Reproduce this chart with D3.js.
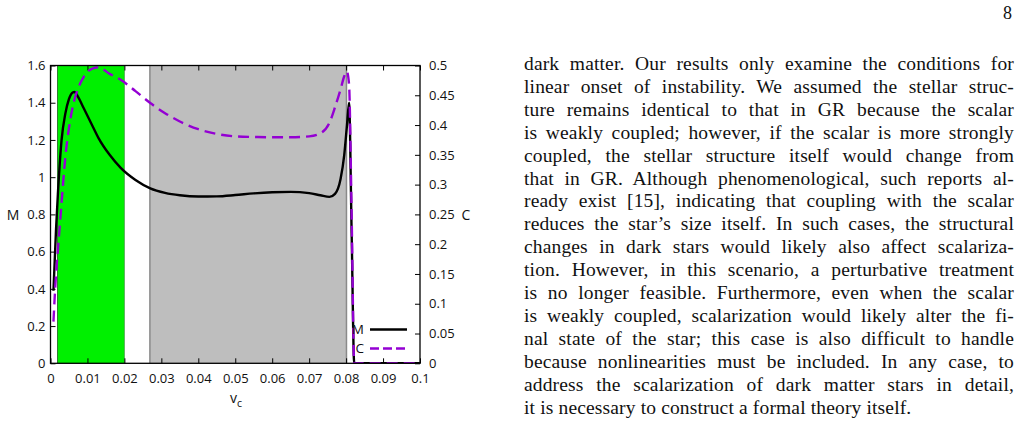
<!DOCTYPE html>
<html><head><meta charset="utf-8">
<script src="https://cdn.jsdelivr.net/npm/d3@7"></script>
<style>
html,body{margin:0;padding:0;background:#fff;width:1022px;height:426px;overflow:hidden;}
svg{position:absolute;left:0;top:0;}
</style></head><body>
<svg id="chart" width="1022" height="426"></svg>
<script>
// ---- data ----
const vc = [0.0008,0.0015,0.002,0.003,0.004,0.005,0.006,0.0065,0.0075,0.009,0.011,0.013,0.016,0.019,0.023,0.027,0.031,0.035,0.04,0.045,0.05,0.055,0.06,0.065,0.07,0.073,0.0755,0.077,0.0785,0.0795,0.0802,0.0808,0.0815,0.0822,0.09,0.1];
const Mvals = [0.39,0.72,0.91,1.20,1.34,1.42,1.455,1.458,1.43,1.37,1.29,1.21,1.12,1.05,0.985,0.94,0.916,0.903,0.896,0.897,0.904,0.913,0.919,0.921,0.914,0.903,0.894,0.91,0.99,1.12,1.27,1.40,0.70,0,0,0];
const Cvals = [0.07,0.15,0.19,0.27,0.345,0.395,0.43,0.443,0.462,0.481,0.494,0.497,0.486,0.476,0.457,0.437,0.42,0.406,0.393,0.385,0.381,0.38,0.3795,0.3795,0.381,0.386,0.404,0.43,0.46,0.482,0.49,0.468,0.25,0,0,0];
const bandStart = [0.0019, 0.0269];
const bandEnd = [0.0200, 0.0801];
const bandName = ["green", "gray"];
const xTicks = [0,0.01,0.02,0.03,0.04,0.05,0.06,0.07,0.08,0.09,0.1];
const xTickLabels = ["0","0.01","0.02","0.03","0.04","0.05","0.06","0.07","0.08","0.09","0.1"];
const yTicks = [0,0.2,0.4,0.6,0.8,1,1.2,1.4,1.6];
const yTickLabels = ["0","0.2","0.4","0.6","0.8","1","1.2","1.4","1.6"];
const y2Ticks = [0,0.05,0.1,0.15,0.2,0.25,0.3,0.35,0.4,0.45,0.5];
const y2TickLabels = ["0","0.05","0.1","0.15","0.2","0.25","0.3","0.35","0.4","0.45","0.5"];
const seriesNames = ["M","C"];
const textLines = [
"dark matter. Our results only examine the conditions for",
"linear onset of instability. We assumed the stellar struc-",
"ture remains identical to that in GR because the scalar",
"is weakly coupled; however, if the scalar is more strongly",
"coupled, the stellar structure itself would change from",
"that in GR. Although phenomenological, such reports al-",
"ready exist [15], indicating that coupling with the scalar",
"reduces the star\u2019s size itself. In such cases, the structural",
"changes in dark stars would likely also affect scalariza-",
"tion. However, in this scenario, a perturbative treatment",
"is no longer feasible. Furthermore, even when the scalar",
"is weakly coupled, scalarization would likely alter the fi-",
"nal state of the star; this case is also difficult to handle",
"because nonlinearities must be included. In any case, to",
"address the scalarization of dark matter stars in detail,",
"it is necessary to construct a formal theory itself."
];
const pageNumber = "8";

// ---- chart ----
const svg = d3.select("#chart");
const L = 50.5, R = 420, T = 65.5, B = 363.3;
const x = d3.scaleLinear().domain([0,0.1]).range([L,R]);
const y = d3.scaleLinear().domain([0,1.6]).range([B,T]);
const y2 = d3.scaleLinear().domain([0,0.5]).range([B,T]);
const tickFont = '"Open Sans", sans-serif';
const fill = {green:"#00f000", gray:"#bebebe"};
const edge = {green:"#2f7d2f", gray:"#8a8a8a"};

const g = svg.append("g");
bandStart.forEach((s,i)=>{
  g.append("rect").attr("x",x(s)).attr("y",T).attr("width",x(bandEnd[i])-x(s)).attr("height",B-T)
   .attr("fill",fill[bandName[i]]);
  g.append("line").attr("x1",x(s)).attr("x2",x(s)).attr("y1",T).attr("y2",B)
   .attr("stroke",edge[bandName[i]]).attr("stroke-width",bandName[i]=="gray"?1.5:1);
  g.append("line").attr("x1",x(bandEnd[i])).attr("x2",x(bandEnd[i])).attr("y1",T).attr("y2",B)
   .attr("stroke",edge[bandName[i]]).attr("stroke-width",bandName[i]=="gray"?1.5:0.6);
});

const axB = d3.axisBottom(x).tickValues(xTicks).tickFormat((d,i)=>xTickLabels[i]).tickSizeInner(-5).tickSizeOuter(0).tickPadding(10);
const axT = d3.axisTop(x).tickValues(xTicks).tickFormat("").tickSizeInner(-5).tickSizeOuter(0);
const axL = d3.axisLeft(y).tickValues(yTicks).tickFormat((d,i)=>yTickLabels[i]).tickSizeInner(-5).tickSizeOuter(0).tickPadding(5);
const axR = d3.axisRight(y2).tickValues(y2Ticks).tickFormat((d,i)=>y2TickLabels[i]).tickSizeInner(-5).tickSizeOuter(0).tickPadding(9);
function styleAx(sel){
  sel.select(".domain").remove();
  sel.selectAll(".tick line").attr("stroke","#000").attr("stroke-width",1);
  sel.selectAll("text").attr("font-family",tickFont).attr("font-size","13px").attr("fill","#111");
}
svg.append("g").attr("transform",`translate(0,${B})`).call(axB).call(styleAx);
svg.append("g").attr("transform",`translate(0,${T})`).call(axT).call(styleAx);
svg.append("g").attr("transform",`translate(${L},0)`).call(axL).call(styleAx);
svg.append("g").attr("transform",`translate(${R},0)`).call(axR).call(styleAx).selectAll("text").attr("text-anchor","start");

const lineM = d3.line().x((d,i)=>x(vc[i])).y(d=>y(d)).curve(d3.curveMonotoneX);
const lineC = d3.line().x((d,i)=>x(vc[i])).y(d=>y2(d)).curve(d3.curveMonotoneX);
svg.append("clipPath").attr("id","clp").append("rect").attr("x",L).attr("y",T-3).attr("width",R-L).attr("height",B-T+3);
svg.append("path").attr("d",lineM(Mvals)).attr("fill","none").attr("stroke","#000").attr("stroke-width",2.4).attr("clip-path","url(#clp)");
svg.append("path").attr("d",lineC(Cvals)).attr("fill","none").attr("stroke","#9400d3").attr("stroke-width",2.4).attr("stroke-dasharray","11,6").attr("clip-path","url(#clp)");

svg.append("rect").attr("x",L).attr("y",T).attr("width",R-L).attr("height",B-T).attr("fill","none").attr("stroke","#000").attr("stroke-width",1.3);

svg.append("text").attr("x",13).attr("y",215).attr("dy","0.35em").attr("text-anchor","middle").attr("font-family",tickFont).attr("font-size","14px").attr("fill","#111").text("M");
svg.append("text").attr("x",466).attr("y",215).attr("dy","0.35em").attr("text-anchor","middle").attr("font-family",tickFont).attr("font-size","14px").attr("fill","#111").text("C");
const xl = svg.append("text").attr("x",236).attr("y",403).attr("text-anchor","middle").attr("font-family",tickFont).attr("font-size","14px").attr("fill","#111");
xl.append("tspan").text("v");
xl.append("tspan").attr("dy",4).attr("font-size","10.5px").text("c");

const legY = [329.5, 348.5];
seriesNames.forEach((n,i)=>{
  svg.append("text").attr("x",364).attr("y",legY[i]).attr("dy","0.35em").attr("text-anchor","end").attr("font-family",tickFont).attr("font-size","13.5px").attr("fill","#111").text(n);
  svg.append("line").attr("x1",370).attr("x2",407).attr("y1",legY[i]).attr("y2",legY[i])
    .attr("stroke",i==0?"#000":"#9400d3").attr("stroke-width",2.4).attr("stroke-dasharray",i==0?null:"9,4");
});

svg.append("text").attr("x",1012).attr("y",19).attr("text-anchor","end").attr("font-family",'"Liberation Serif", serif').attr("font-size","18px").attr("fill","#111").text(pageNumber);

const TX = 524, TW = 490, TY0 = 70, TLH = 22.9;
textLines.forEach((s,i)=>{
  const t = svg.append("text").attr("x",TX).attr("y",TY0+i*TLH).attr("font-family",'"Liberation Serif", serif').attr("font-size","19.5px").attr("letter-spacing","0.15px").attr("fill","#111").attr("xml:space","preserve").text(s);
  if(i<textLines.length-1){
    const w = t.node().getComputedTextLength();
    const n = (s.match(/ /g)||[]).length;
    if(n>0) t.attr("word-spacing",(TW-w)/n);
  }
});
</script>
</body></html>
